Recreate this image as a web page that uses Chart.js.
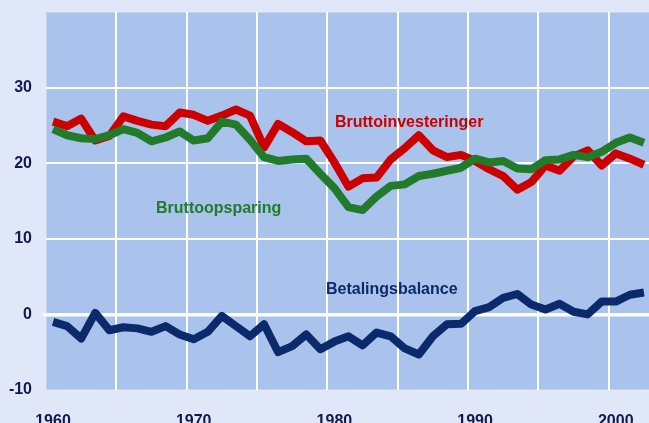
<!DOCTYPE html>
<html>
<head>
<meta charset="utf-8">
<script src="https://cdn.jsdelivr.net/npm/chart.js@4/dist/chart.umd.min.js"></script>
<style>
  html, body { margin: 0; padding: 0; background: #dfe7f8; }
  #wrap { width: 649px; height: 423px; position: relative; }
</style>
</head>
<body>
<div id="wrap"><canvas id="c" width="649" height="423"></canvas></div>
<script>
const years = [1960,1961,1962,1963,1964,1965,1966,1967,1968,1969,
               1970,1971,1972,1973,1974,1975,1976,1977,1978,1979,
               1980,1981,1982,1983,1984,1985,1986,1987,1988,1989,
               1990,1991,1992,1993,1994,1995,1996,1997,1998,1999,
               2000,2001,2002];
const bruttoinvesteringer = [25.5,24.9,25.9,23.0,23.6,26.2,25.6,25.1,24.9,26.7,
                             26.4,25.6,26.3,27.1,26.3,22.1,25.2,24.1,22.9,23.0,
                             20.1,16.9,18.0,18.1,20.5,22.0,23.7,21.7,20.8,21.1,
                             20.3,19.2,18.3,16.5,17.5,19.7,19.0,20.9,21.7,19.7,
                             21.3,20.6,19.8];
const bruttoopsparing = [24.5,23.7,23.3,23.2,23.7,24.5,24.0,22.9,23.4,24.2,
                         23.0,23.3,25.5,25.1,23.1,20.8,20.3,20.5,20.6,18.6,
                         16.7,14.2,13.8,15.6,17.0,17.2,18.3,18.6,19.0,19.4,
                         20.6,20.1,20.3,19.3,19.2,20.4,20.5,21.1,20.8,21.5,
                         22.7,23.4,22.7];
const betalingsbalance = [-1.0,-1.55,-3.2,0.2,-2.1,-1.7,-1.85,-2.3,-1.55,-2.65,
                          -3.3,-2.3,-0.2,-1.55,-2.9,-1.3,-5.0,-4.2,-2.65,-4.6,
                          -3.6,-2.9,-4.1,-2.4,-2.9,-4.5,-5.3,-2.9,-1.3,-1.25,
                          0.44,0.97,2.2,2.7,1.3,0.66,1.4,0.35,0.0,1.7,
                          1.7,2.6,2.9];
const yTicks = [-10, 0, 10, 20, 30];
const xTickLabels = [1960, 1970, 1980, 1990, 2000];
const seriesLabels = ['Bruttoinvesteringer', 'Bruttoopsparing', 'Betalingsbalance'];

const RED = '#cc0000', GREEN = '#227a2b', NAVY = '#0b2a6c', TEXT = '#14194d';
const FONT = '"Liberation Sans", Arial, sans-serif';

function pts(vals) { return years.map((y, i) => ({ x: y, y: vals[i] })); }

const bgPlugin = {
  id: 'bg',
  beforeDraw(chart) {
    const { ctx, chartArea: a } = chart;
    ctx.save();
    ctx.fillStyle = '#a9c3ec';
    ctx.fillRect(a.left, a.top, a.right - a.left, a.bottom - a.top);
    ctx.strokeStyle = '#c3d3f0';
    ctx.lineWidth = 1;
    ctx.beginPath();
    ctx.moveTo(a.left, a.top + 0.5); ctx.lineTo(a.right, a.top + 0.5);
    ctx.moveTo(a.left + 0.5, a.top); ctx.lineTo(a.left + 0.5, a.bottom);
    ctx.moveTo(a.left, a.bottom - 0.5); ctx.lineTo(a.right, a.bottom - 0.5);
    ctx.stroke();
    ctx.restore();
  }
};

const labelPlugin = {
  id: 'seriesText',
  afterDatasetsDraw(chart) {
    const { ctx } = chart;
    const xs = chart.scales.x, ys = chart.scales.y;
    ctx.save();
    ctx.font = 'bold 16px ' + FONT;
    ctx.textAlign = 'left';
    ctx.textBaseline = 'alphabetic';
    const items = [
      [seriesLabels[0], RED, 1980.04, 24.84],
      [seriesLabels[1], GREEN, 1967.32, 13.47],
      [seriesLabels[2], NAVY, 1979.4, 2.65]
    ];
    items.forEach(([t, c, xv, yv]) => {
      ctx.fillStyle = c;
      ctx.fillText(t, xs.getPixelForValue(xv), ys.getPixelForValue(yv));
    });
    ctx.restore();
  }
};

new Chart(document.getElementById('c'), {
  type: 'line',
  data: {
    datasets: [
      { label: seriesLabels[1], data: pts(bruttoopsparing), borderColor: GREEN },
      { label: seriesLabels[0], data: pts(bruttoinvesteringer), borderColor: RED },
      { label: seriesLabels[2], data: pts(betalingsbalance), borderColor: NAVY }
    ].map(d => Object.assign(d, {
      borderWidth: 8, pointRadius: 0, tension: 0, fill: false,
      borderJoinStyle: 'round', borderCapStyle: 'butt'
    }))
  },
  options: {
    responsive: false,
    animation: false,
    devicePixelRatio: 1,
    layout: { padding: { top: 12, right: 0, left: 0, bottom: 0 } },
    plugins: { legend: { display: false }, tooltip: { enabled: false } },
    scales: {
      x: {
        type: 'linear',
        min: 1959.5,
        max: 2002.36,
        afterBuildTicks(scale) {
          const t = [];
          for (let v = 1959.5; v < 2002; v += 5) t.push({ value: v });
          scale.ticks = t;
        },
        afterFit(scale) {
          scale.height = 33;
          scale.paddingLeft = 0; scale.paddingRight = 0;
          scale.paddingTop = 0; scale.paddingBottom = 0;
        },
        border: { display: false },
        grid: {
          color: ctx => ctx.tick && ctx.tick.value === 1959.5 ? 'rgba(255,255,255,0)' : '#ffffff',
          lineWidth: 2,
          drawTicks: false
        },
        ticks: {
          autoSkip: false,
          maxRotation: 0,
          padding: 22,
          labelOffset: 7,
          color: TEXT,
          font: { family: FONT, size: 16, weight: 'bold' },
          callback: v => xTickLabels.includes(v + 0.5) ? String(v + 0.5) : ''
        }
      },
      y: {
        min: -10,
        max: 40,
        afterBuildTicks(scale) {
          scale.ticks = yTicks.concat([40]).map(v => ({ value: v }));
        },
        afterFit(scale) {
          scale.width = 46;
          scale.paddingTop = 0; scale.paddingBottom = 0;
          scale.paddingLeft = 0; scale.paddingRight = 0;
        },
        border: { display: false },
        grid: {
          color: ctx => (ctx.tick && (ctx.tick.value === 40 || ctx.tick.value === -10)) ? 'rgba(255,255,255,0)' : '#ffffff',
          lineWidth: ctx => ctx.tick && ctx.tick.value === 0 ? 3.5 : 2,
          tickLength: 3,
          tickWidth: 3.5,
          tickColor: ctx => ctx.tick && ctx.tick.value === 0 ? '#ffffff' : 'rgba(255,255,255,0)'
        },
        ticks: {
          padding: 11,
          color: TEXT,
          font: { family: FONT, size: 16, weight: 'bold' },
          callback: v => yTicks.includes(v) ? String(v) : ''
        }
      }
    }
  },
  plugins: [bgPlugin, labelPlugin]
});
</script>
</body>
</html>
